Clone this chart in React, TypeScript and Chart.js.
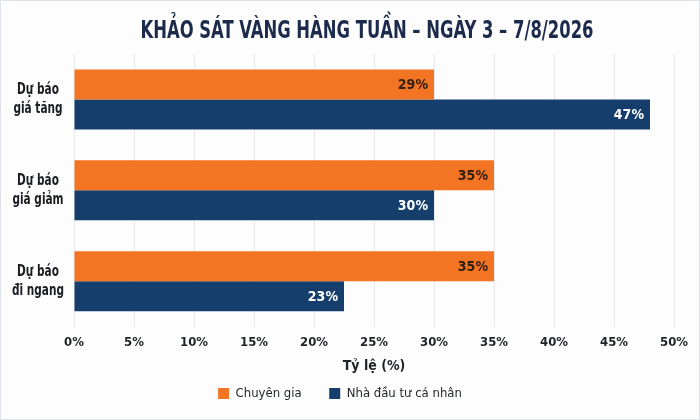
import React, { useEffect, useRef } from 'react';
import { Chart, registerables } from 'chart.js';

Chart.register(...registerables);

const FONT = "'DejaVu Sans Condensed', 'DejaVu Sans', sans-serif";

const title = 'KHẢO SÁT VÀNG HÀNG TUẦN – NGÀY 3 – 7/8/2026';
const categories = [
  ['Dự báo', 'giá tăng'],
  ['Dự báo', 'giá giảm'],
  ['Dự báo', 'đi ngang'],
];
// bar lengths as drawn, and the printed labels on them
const expertValues = [30, 35, 35];
const expertLabels = ['29%', '35%', '35%'];
const investorValues = [48, 30, 22.5];
const investorLabels = ['47%', '30%', '23%'];
const xTicks = [0, 5, 10, 15, 20, 25, 30, 35, 40, 45, 50];

const ORANGE = '#f37422';
const NAVY = '#153e6c';

// condensed title, squeezed to the width of the original
const titlePlugin = {
  id: 'condensedTitle',
  afterDraw(chart: any) {
    const { ctx } = chart;
    ctx.save();
    ctx.font = `bold 25px ${FONT}`;
    ctx.fillStyle = '#1c2b4b';
    ctx.textAlign = 'center';
    ctx.textBaseline = 'middle';
    const w = ctx.measureText(title).width;
    const sx = Math.min(1, 453 / w);
    ctx.translate(366, 30);
    ctx.scale(sx, 1);
    ctx.fillText(title, 0, 0);
    ctx.restore();
  },
};

// category labels, two centred lines each, drawn on the y scale's pixels
const yLabels = {
  id: 'yLabels',
  afterDraw(chart: any) {
    const { ctx } = chart;
    const y = chart.scales.y;
    ctx.save();
    ctx.font = `bold 15px ${FONT}`;
    ctx.fillStyle = '#1b1d22';
    ctx.textAlign = 'center';
    ctx.textBaseline = 'middle';
    categories.forEach((lines, i) => {
      const cy = y.getPixelForValue(i);
      lines.forEach((line, k) => {
        ctx.save();
        ctx.translate(37, cy + (k - (lines.length - 1) / 2) * 19);
        ctx.scale(0.78, 1);
        ctx.fillText(line, 0, 0);
        ctx.restore();
      });
    });
    ctx.restore();
  },
};

const barLabels = {
  id: 'barLabels',
  afterDatasetsDraw(chart: any) {
    const { ctx } = chart;
    ctx.save();
    ctx.font = `bold 14px ${FONT}`;
    ctx.textAlign = 'right';
    ctx.textBaseline = 'middle';
    chart.data.datasets.forEach((ds: any, i: number) => {
      const meta = chart.getDatasetMeta(i);
      meta.data.forEach((bar: any, j: number) => {
        ctx.fillStyle = i === 0 ? '#33200f' : '#ffffff';
        ctx.fillText(ds.valueLabels[j], bar.x - 6, bar.y + 1);
      });
    });
    ctx.restore();
  },
};

const App: React.FC = () => {
  const chartRef = useRef<HTMLCanvasElement | null>(null);
  const chartInstanceRef = useRef<any>(null);

  useEffect(() => {
    document.body.style.margin = '0';
    if (chartInstanceRef.current) {
      chartInstanceRef.current.destroy();
    }
    const ctx = chartRef.current?.getContext('2d');
    if (ctx) {
      chartInstanceRef.current = new Chart(ctx, {
        type: 'bar',
        data: {
          labels: categories.map(c => c.join(' ')),
          datasets: [
            {
              label: 'Chuyên gia',
              data: expertValues,
              valueLabels: expertLabels,
              backgroundColor: ORANGE,
              barPercentage: 1,
              categoryPercentage: 0.66,
            } as any,
            {
              label: 'Nhà đầu tư cá nhân',
              data: investorValues,
              valueLabels: investorLabels,
              backgroundColor: NAVY,
              barPercentage: 1,
              categoryPercentage: 0.66,
            } as any,
          ],
        },
        options: {
          indexAxis: 'y',
          animation: false,
          responsive: false,
          layout: { padding: { left: 5, right: 25, top: 53, bottom: 9 } },
          scales: {
            x: {
              min: 0,
              max: 50,
              afterBuildTicks: (axis: any) => {
                axis.ticks = xTicks.map(v => ({ value: v }));
              },
              grid: { color: '#e6e8ec', drawTicks: false },
              border: { display: false },
              ticks: {
                padding: 8,
                color: '#1f2328',
                font: { family: FONT, size: 13, weight: 'bold' },
                callback: (v: any) => v + '%',
              },
              title: {
                display: true,
                text: 'Tỷ lệ (%)',
                color: '#1f2328',
                font: { family: FONT, size: 14, weight: 'bold' },
                padding: { top: 0, bottom: 2 },
              },
            },
            y: {
              afterFit: (axis: any) => {
                axis.width = 68;
              },
              grid: { display: false },
              border: { display: false },
              ticks: { display: false },
            },
          },
          plugins: {
            title: { display: false },
            legend: {
              position: 'bottom',
              labels: {
                boxWidth: 11,
                boxHeight: 11,
                padding: 10,
                color: '#1f2328',
                font: { family: FONT, size: 13 },
                generateLabels: (chart: any) => {
                  const items = Chart.defaults.plugins.legend.labels.generateLabels(chart);
                  items[0].text = items[0].text + '\u2003\u2002';
                  return items;
                },
              },
            },
            tooltip: { enabled: false },
          },
        },
        plugins: [barLabels, titlePlugin, yLabels],
      });
    }
    return () => {
      if (chartInstanceRef.current) {
        chartInstanceRef.current.destroy();
      }
    };
  }, []);

  return (
    <div
      style={{
        width: 700,
        height: 420,
        boxSizing: 'border-box',
        border: '1px solid #dde2e8',
        background: '#fdfdfe',
      }}
    >
      <canvas ref={chartRef} width={698} height={418}></canvas>
    </div>
  );
};

export default App;
